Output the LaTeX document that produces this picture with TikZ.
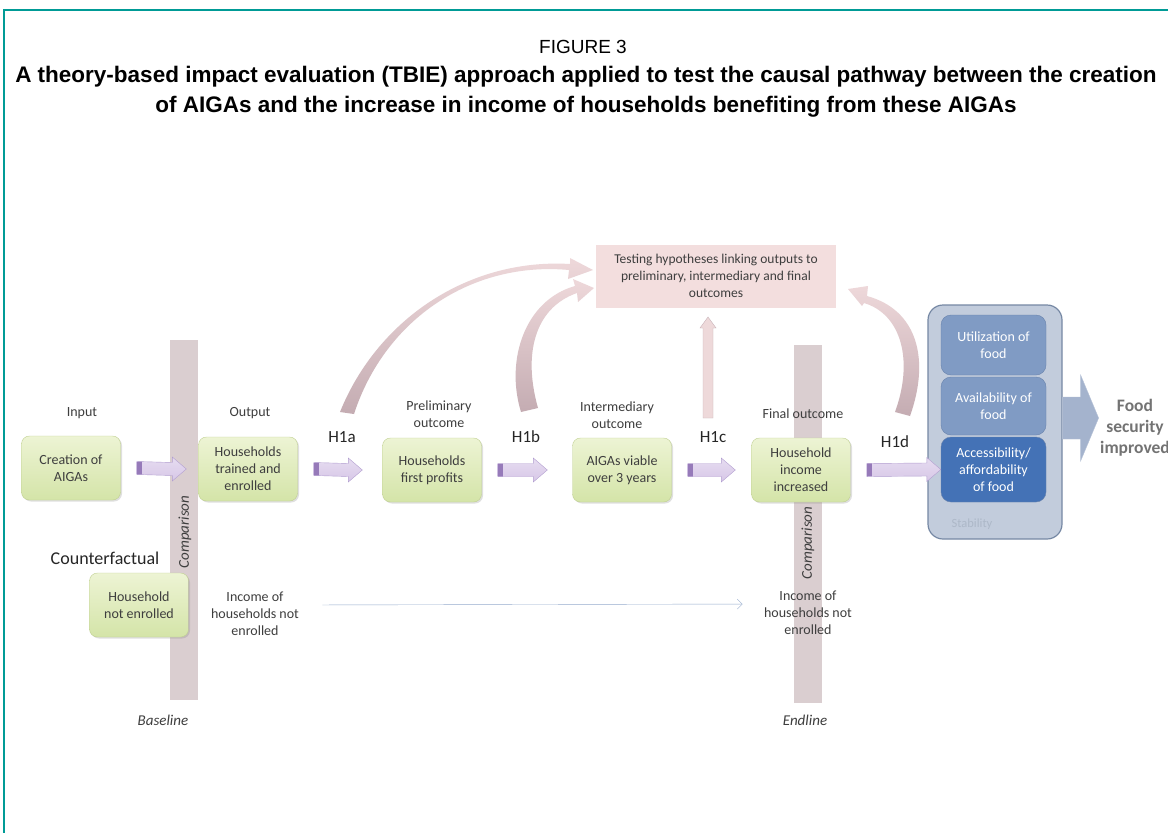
\documentclass[tikz,border=0pt]{standalone}
\usepackage{fontspec}
\setmainfont{Carlito}
\newfontfamily\titlefont{Liberation Sans}
\usepackage{tikz}
\usetikzlibrary{arrows.meta,calc,shadows}
\definecolor{frameteal}{RGB}{0,155,150}
\definecolor{boxgreentop}{RGB}{237,244,212}
\definecolor{boxgreenbot}{RGB}{212,228,168}
\definecolor{boxgreenline}{RGB}{192,208,146}
\definecolor{barpink}{RGB}{218,206,208}
\definecolor{testpink}{RGB}{243,222,222}
\definecolor{curvelight}{RGB}{238,216,218}
\definecolor{curvedark}{RGB}{196,172,178}
\definecolor{lavender}{RGB}{222,208,236}
\definecolor{lavenderdark}{RGB}{150,122,185}
\definecolor{lavenderline}{RGB}{178,158,208}
\definecolor{stabfill}{RGB}{194,204,220}
\definecolor{stabline}{RGB}{118,136,164}
\definecolor{foodblue}{RGB}{128,155,196}
\definecolor{foodbluedark}{RGB}{68,114,182}
\definecolor{foodline}{RGB}{104,130,172}
\definecolor{bigarrow}{RGB}{164,179,205}
\definecolor{thinblue}{RGB}{150,172,205}
\definecolor{textgrey}{RGB}{62,62,62}

\begin{document}
\begin{tikzpicture}[x=1pt,y=-1pt,
    greenbox/.style={draw=boxgreenline, top color=boxgreentop, bottom color=boxgreenbot, rounded corners=8pt, minimum width=99pt, minimum height=64pt, align=center, text=textgrey, font=\fontsize{14}{17}\selectfont,
        drop shadow={shadow xshift=1.5pt, shadow yshift=-1.5pt, opacity=0.25}},
    foodbox/.style={draw=foodline, fill=foodblue, rounded corners=10pt, minimum width=105pt, align=center, text=white, font=\fontsize{14}{17}\selectfont},
    label/.style={align=center, text=textgrey, font=\fontsize{14}{17}\selectfont},
    hyp/.style={text=black!85, font=\fontsize{17}{20}\selectfont},
    bar/.style={fill=barpink, minimum width=28pt, inner sep=0pt},
    sidenote/.style={text=textgrey, font=\fontsize{15}{17}\selectfont\itshape},
    curve/.style={top color=curvelight, bottom color=curvedark},
    purpleto/.style={draw=lavenderline, top color=lavender!75!white, bottom color=lavender!90!lavenderdark,
        path picture={\fill[lavenderdark] (path picture bounding box.north west) rectangle ([xshift=5pt]path picture bounding box.south west);},
        to path={($(\tikztostart)+(0,-6.5)$) -- ($(\tikztotarget)+(-14,-6.5)$) -- ($(\tikztotarget)+(-14,-12)$) -- (\tikztotarget)
            -- ($(\tikztotarget)+(-14,12)$) -- ($(\tikztotarget)+(-14,6.5)$) -- ($(\tikztostart)+(0,6.5)$) -- cycle}},
    bigto/.style={fill=bigarrow, draw=bigarrow!80!white,
        to path={($(\tikztostart)+(0,-21)$) -- ($(\tikztotarget)+(-18,-21)$) -- ($(\tikztotarget)+(-18,-43)$) -- (\tikztotarget)
            -- ($(\tikztotarget)+(-18,43)$) -- ($(\tikztotarget)+(-18,21)$) -- ($(\tikztostart)+(0,21)$) -- cycle}},
    upto/.style={draw=curvedark!90!white, fill=testpink!90!curvedark,
        to path={($(\tikztostart)+(-5,0)$) -- ($(\tikztotarget)+(-5,11)$) -- ($(\tikztotarget)+(-8,11)$) -- (\tikztotarget)
            -- ($(\tikztotarget)+(8,11)$) -- ($(\tikztotarget)+(5,11)$) -- ($(\tikztostart)+(5,0)$) -- cycle}}]
    \useasboundingbox (0,0) rectangle (1168,833);
    \fill[white] (0,0) rectangle (1168,833);
    \draw[frameteal, line width=1.5pt] (4,833) -- (4,10) -- (1168,10);
    \node[font=\fontsize{19}{22}\titlefont] at(583,47)(fig){FIGURE 3};
    \node[align=center, font=\fontsize{22.5}{30}\titlefont\bfseries] at(586,92)(title){A theory-based impact evaluation (TBIE) approach applied to test the causal pathway between the creation\\of AIGAs and the increase in income of households benefiting from these AIGAs};

    \node[bar, minimum height=360pt] at(184,520)(basebar){};
    \node[bar, minimum height=358pt] at(808,524)(endbar){};
    \node[sidenote, rotate=90] at(185,532){Comparison};
    \node[sidenote, rotate=90] at(808,543){Comparison};
    \node[sidenote] at(163,720)(baseline){Baseline};
    \node[sidenote] at(805,720)(endline){Endline};

    \node[label] at(82,413)(linput){Input};
    \node[label] at(250,413)(loutput){Output};
    \node[label] at(439,414)(lprelim){Preliminary\\outcome};
    \node[label] at(617,415)(linter){Intermediary\\outcome};
    \node[label] at(803,414)(lfinal){Final outcome};

    \node[greenbox] at(71,468)(input){Creation of\\AIGAs};
    \node[greenbox] at(248,469)(output){Households\\trained and\\enrolled};
    \node[greenbox] at(432,470)(prelim){Households\\first profits};
    \node[greenbox] at(622,470)(inter){AIGAs viable\\over 3 years};
    \node[greenbox] at(801,470)(final){Household\\income\\increased};

    \node[hyp] at(342,437)(h1a){H1a};
    \node[hyp] at(526,437)(h1b){H1b};
    \node[hyp] at(713,437)(h1c){H1c};
    \node[hyp] at(895,442)(h1d){H1d};

    \node[fill=testpink, minimum width=240pt, minimum height=63pt, align=center, text=textgrey, font=\fontsize{13.5}{17}\selectfont] at(716,276)(test){Testing hypotheses linking outputs to\\preliminary, intermediary and final\\outcomes};

    \node[draw=stabline, line width=1.2pt, fill=stabfill, rounded corners=15pt, minimum width=134pt, minimum height=234pt] at(995,422)(stab){};
    \node[text=stabline!60!white, font=\fontsize{12.5}{14}\selectfont] at(972,524)(lstab){Stability};
    \node[foodbox, minimum height=60pt] at(993.5,345)(util){Utilization of\\food};
    \node[foodbox, minimum height=58pt] at(993.5,406)(avail){Availability of\\food};
    \node[foodbox, fill=foodbluedark, minimum height=65pt] at(993.5,469.5)(access){Accessibility/\\affordability\\of food};
    \node[align=center, text=black!55, font=\fontsize{17.5}{21}\selectfont\bfseries] at(1135,428)(secure){Food\\security\\improved};

    \node[text=black!85, font=\fontsize{18}{20}\selectfont] at(105,558)(lcounter){Counterfactual};
    \node[greenbox] at(139,605)(notenr){Household\\not enrolled};
    \node[label] at(255,614)(incbase){Income of\\households not\\enrolled};
    \node[label] at(808,613)(incend){Income of\\households not\\enrolled};

    \coordinate (a1s) at ([xshift=16pt]input.east);
    \coordinate (a1e) at ([xshift=-12pt]output.west);
    \coordinate (a2s) at ([xshift=16pt]output.east);
    \coordinate (a2e) at ([xshift=-20pt]prelim.west);
    \coordinate (a3s) at ([xshift=16pt]prelim.east);
    \coordinate (a3e) at ([xshift=-25pt]inter.west);
    \coordinate (a4s) at ([xshift=16pt]inter.east);
    \coordinate (a4e) at ([xshift=-16pt]final.west);
    \coordinate (a5s) at ([xshift=16pt]final.east);
    \coordinate (a5e) at (access.west);
    \draw[purpleto] (a1s) to (a1e);
    \draw[purpleto] (a2s) to (a2e);
    \draw[purpleto] (a3s) to (a3e);
    \draw[purpleto] (a4s) to (a4e);
    \draw[purpleto] (a5s) to (a5e);
    \coordinate (bigs) at ([yshift=4pt]stab.east);
    \coordinate (bige) at ([xshift=36pt]bigs);
    \draw[bigto] (bigs) to (bige);
    \coordinate (ups) at (708,418);
    \coordinate (upe) at (708,317);
    \draw[upto] (ups) to (upe);
    \draw[thinblue, -{Straight Barb[length=5pt]}, shorten <=20pt, shorten >=18pt] ([yshift=9pt]incbase.east) -- ([yshift=9pt]incend.west);

    \path[curve] (340,412) .. controls (378,318) and (470,258) .. (570,264) -- (570,258) -- (593,270) -- (568,279) -- (569,270) .. controls (472,261) and (385,319) .. (354,414) -- cycle;
    \path[curve] (521,412) .. controls (505,360) and (525,300) .. (575,286) -- (573,279) -- (594,288) -- (578,302) -- (577,293) .. controls (534,308) and (523,355) .. (538,408) -- cycle;
    \path[curve] (910,416) .. controls (930,360) and (918,310) .. (867,296) -- (868,286) -- (848,289) -- (862,306) -- (864,303) .. controls (901,314) and (914,360) .. (895,412) -- cycle;
\end{tikzpicture}
\end{document}
